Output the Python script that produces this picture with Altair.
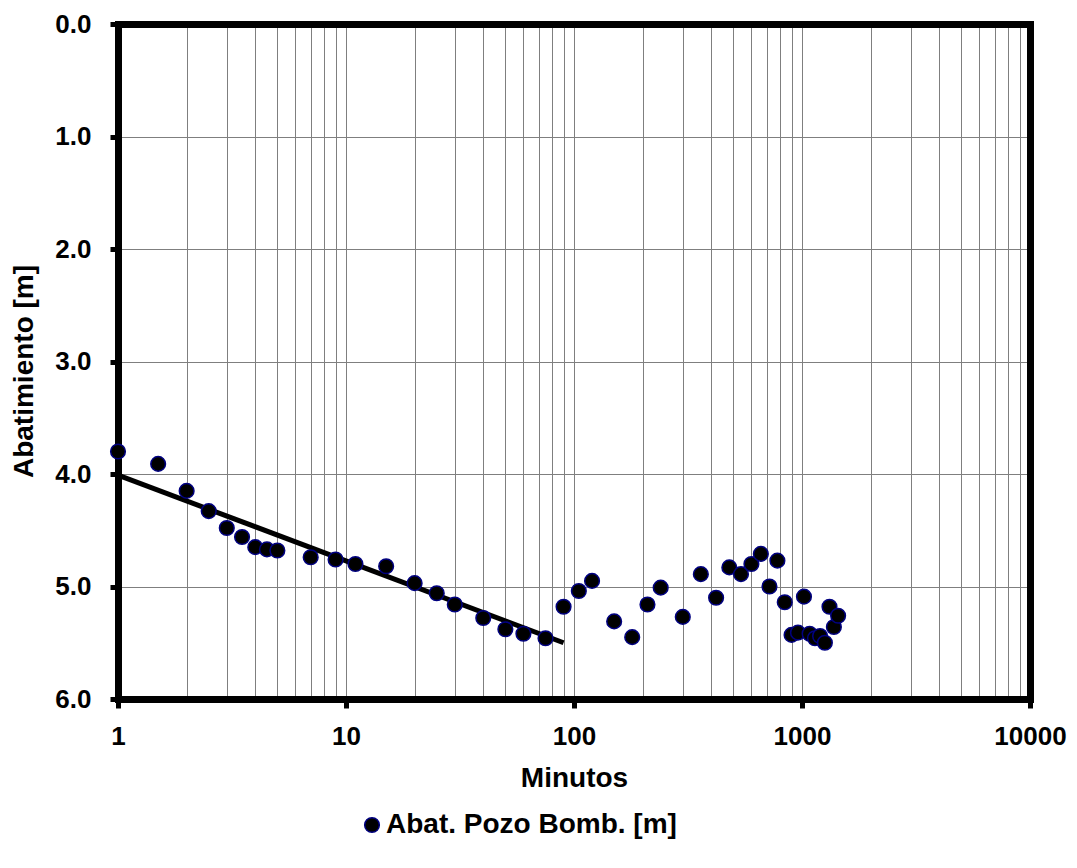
import altair as alt
import pandas as pd

minutes = [1, 1.5, 2, 2.5, 3, 3.5, 4, 4.5, 5, 7, 9, 11, 15, 20, 25, 30, 40, 50, 60, 75,
           90, 105, 120, 150, 180, 210, 240, 300, 360, 420, 480, 540, 600, 660, 720, 780,
           840, 900, 960, 1020, 1080, 1140, 1200, 1260, 1320, 1380, 1440]
drawdown = [3.80, 3.91, 4.15, 4.33, 4.48, 4.56, 4.65, 4.67, 4.68, 4.74, 4.76, 4.80, 4.82,
            4.97, 5.06, 5.16, 5.28, 5.38, 5.42, 5.46,
            5.18, 5.04, 4.95, 5.31, 5.45, 5.16, 5.01, 5.27, 4.89, 5.10, 4.83, 4.89, 4.80,
            4.71, 5.00, 4.77, 5.14, 5.43, 5.41, 5.09, 5.42, 5.46, 5.44, 5.50, 5.18, 5.36, 5.26]
fit_minutes = [1, 90]
fit_drawdown = [4.01, 5.50]
series_name = "Abat. Pozo Bomb. [m]"
y_ticks = [0, 1, 2, 3, 4, 5, 6]

x_grid_values = [m * 10 ** k for k in range(4) for m in range(1, 10)] + [10000]

pts = pd.DataFrame({"t": minutes, "s": drawdown, "serie": series_name})
fit = pd.DataFrame({"t": fit_minutes, "s": fit_drawdown})

FONT = "Liberation Sans"
LFS = 26
TFS = 28
FRAME = 7
TOP = 16
H = 675

x_scale = alt.Scale(type="log", domain=[1, 10000], nice=False)
y_scale = alt.Scale(domain=[0, 6], reverse=True, nice=False, zero=False)

decade_test = "abs(log(datum.value)/LN10 - round(log(datum.value)/LN10)) < 0.000001"

x_axis = alt.Axis(
    values=x_grid_values,
    format="d",
    labelExpr=decade_test + " ? datum.label : ''",
    title="Minutos",
    titleFont=FONT, titleFontSize=TFS, titleFontWeight="bold", titleColor="black",
    titleX=456, titleY=79, titleBaseline="middle", titleAnchor="middle",
    labelFont=FONT, labelFontSize=LFS, labelFontWeight="bold", labelColor="black",
    labelPadding=15, labelFlush=False, labelOverlap=False,
    tickSize=9, tickWidth=5, tickColor="black",
    tickOpacity={"condition": {"test": decade_test, "value": 1}, "value": 0},
    grid=True, gridColor="#7f7f7f", gridWidth=1,
    domain=True, domainColor="black", domainWidth=FRAME, domainCap="square",
)

y_axis = alt.Axis(
    values=y_ticks,
    format=".1f",
    title="Abatimiento [m]",
    titleFont=FONT, titleFontSize=TFS, titleFontWeight="bold", titleColor="black",
    titleAngle=-90, titleX=-94, titleY=371 - 8 - TOP, titleBaseline="middle", titleAnchor="middle",
    labelFont=FONT, labelFontSize=LFS, labelFontWeight="bold", labelColor="black",
    labelPadding=19, labelFlush=False,
    tickSize=8, tickWidth=5, tickColor="black",
    grid=True, gridColor="#7f7f7f", gridWidth=1,
    domain=True, domainColor="black", domainWidth=FRAME, domainCap="square",
)

frame_axis = alt.Axis(
    labels=False, ticks=False, grid=False, title=None,
    domain=True, domainColor="black", domainWidth=FRAME, domainCap="square",
)

line = alt.Chart(fit).mark_line(color="black", strokeWidth=5).encode(
    x=alt.X("t:Q", scale=x_scale, axis=x_axis),
    y=alt.Y("s:Q", scale=y_scale, axis=y_axis),
)

points = alt.Chart(pts).mark_point(
    filled=True, size=215, stroke="#000080", strokeWidth=1.5, opacity=1, shape="circle"
).encode(
    x=alt.X("t:Q", scale=x_scale, axis=frame_axis),
    y=alt.Y("s:Q", scale=y_scale, axis=frame_axis),
    color=alt.Color(
        "serie:N",
        scale=alt.Scale(domain=[series_name], range=["black"]),
        legend=alt.Legend(
            title=None, orient="none", legendX=240, legendY=826 - 8 - TOP - 15,
            labelFont=FONT, labelFontSize=TFS, labelFontWeight="bold", labelColor="black",
            labelLimit=0,
            symbolType="circle", symbolSize=215, symbolStrokeColor="#000080",
            symbolStrokeWidth=1.5, symbolFillColor="black", labelOffset=0, padding=0,
        ),
    ),
)

chart = alt.layer(line, points).resolve_axis(x="independent", y="independent").properties(
    width=912, height=H,
    autosize=alt.AutoSizeParams(type="none"),
    padding={"left": 110, "top": TOP, "right": 38, "bottom": 150},
    background="white",
).configure_view(
    stroke="transparent"
)

chart.save("out.html", embed_options={"renderer": "svg", "actions": False})
